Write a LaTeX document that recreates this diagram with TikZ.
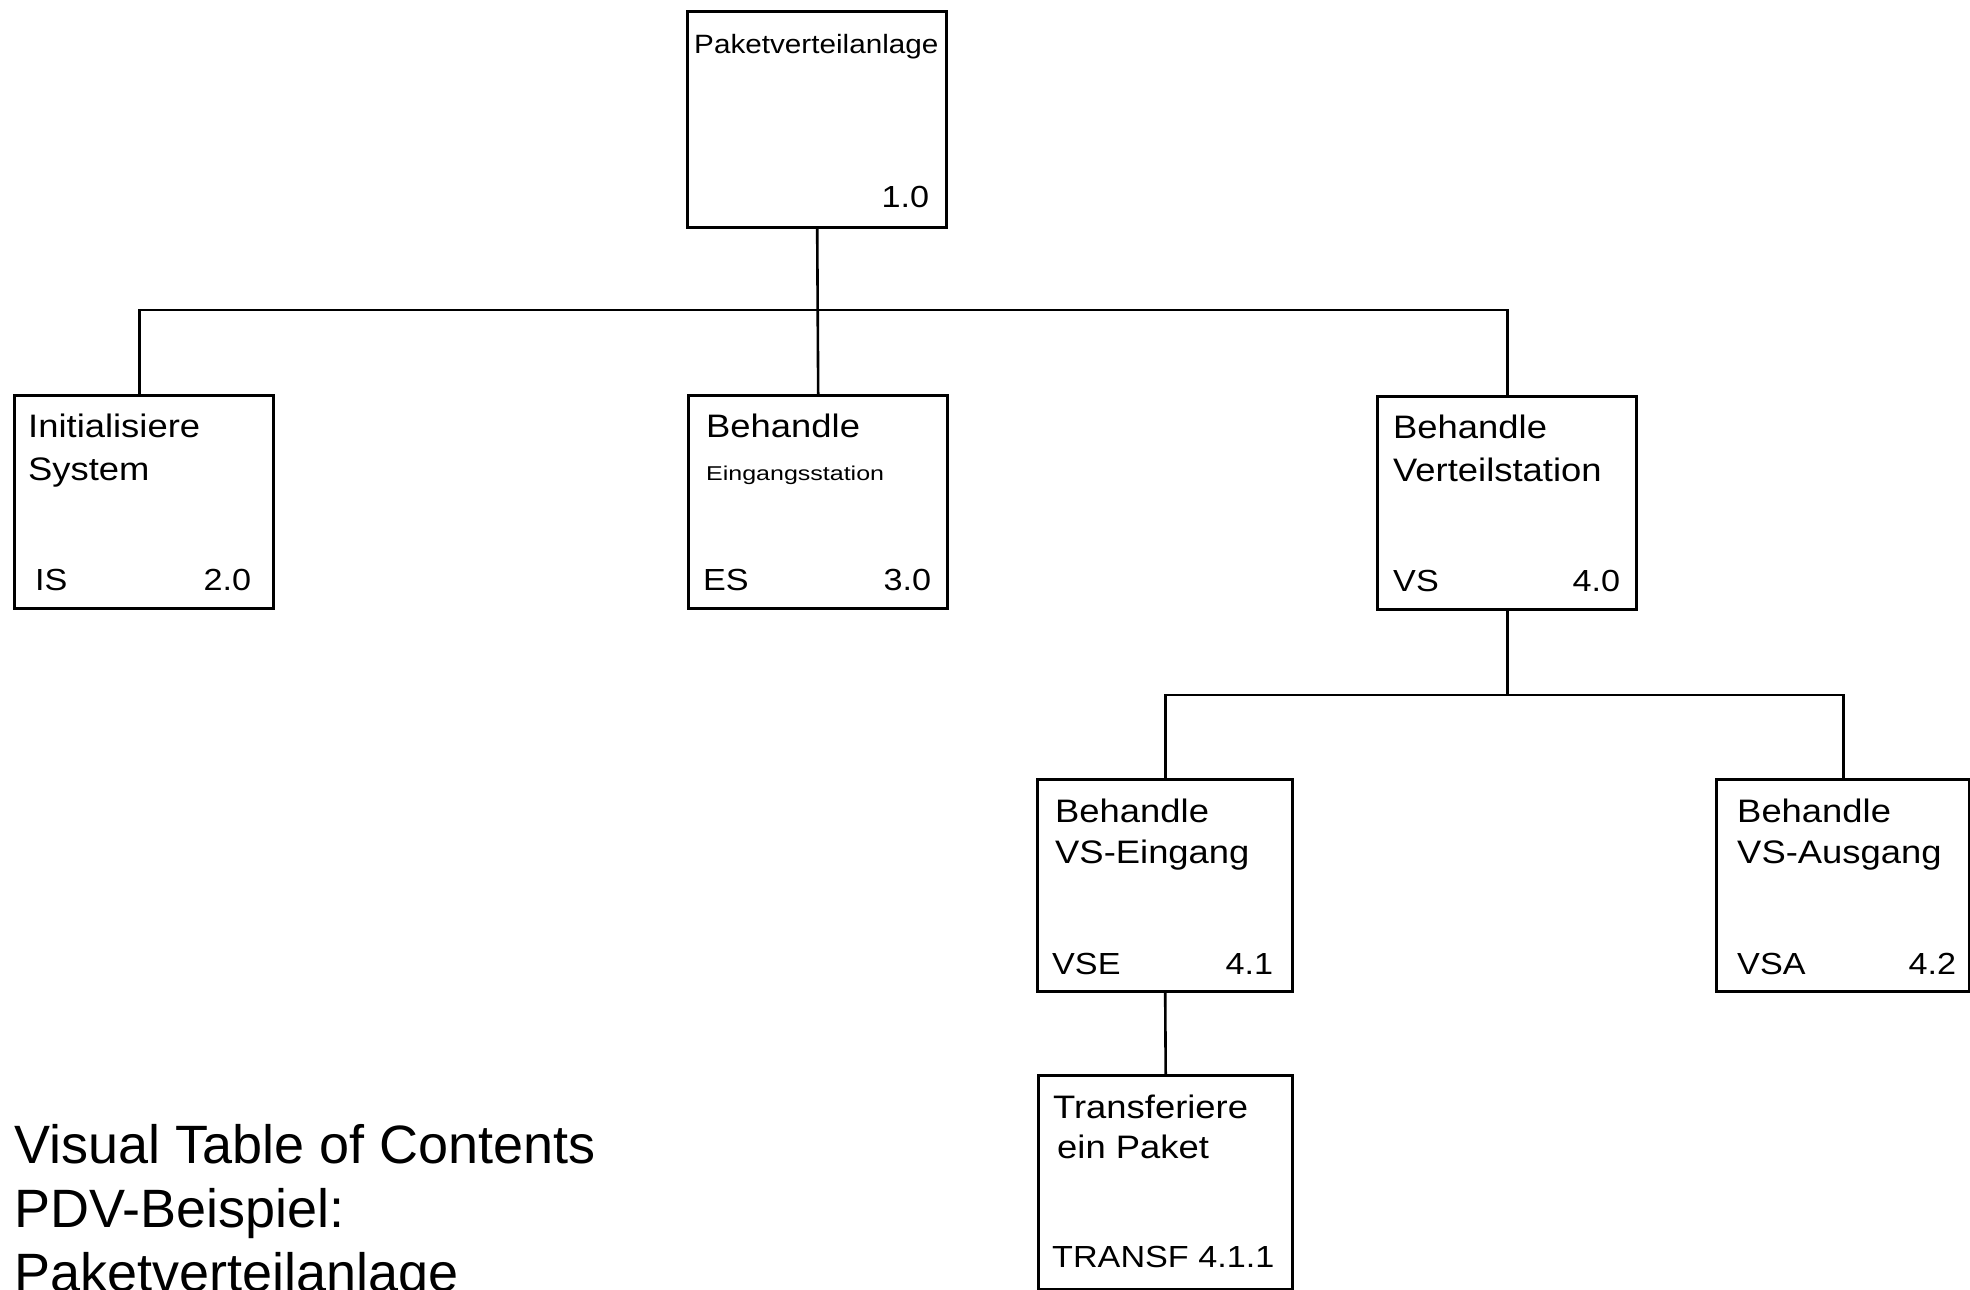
\documentclass[tikz,border=0pt]{standalone}
\usepackage{fontspec}
\setmainfont{Liberation Sans}
\newfontfamily\vtocbox[FakeStretch=1.12]{Liberation Sans}
\newfontfamily\vtocwide[FakeStretch=1.25]{Liberation Sans}
\newfontfamily\vtoccap{Liberation Sans}
\usetikzlibrary{calc}

\tikzset{
  tocbox/.style={draw=black, line width=3.4pt, fill=white, rectangle,
    minimum width=259pt, minimum height=213pt, anchor=north west, inner sep=0pt},
  link/.style={draw=black, line width=2.6pt, line cap=rect},
  headtxt/.style={anchor=base west, inner sep=0pt, font=\vtocbox\fontsize{32.5}{39}\selectfont},
  smalltxt/.style={anchor=base west, inner sep=0pt, font=\vtocwide\fontsize{20}{24}\selectfont},
  tagtxt/.style={anchor=base west, inner sep=0pt, font=\vtocbox\fontsize{30.5}{37}\selectfont},
  numtxt/.style={anchor=base east, inner sep=0pt, font=\vtocbox\fontsize{30.5}{37}\selectfont},
  toptxt/.style={anchor=base west, inner sep=0pt, font=\vtocbox\fontsize{26.5}{32}\selectfont},
  captxt/.style={anchor=base west, inner sep=0pt, font=\vtoccap\fontsize{54}{64}\selectfont},
}

\begin{document}
\begin{tikzpicture}[x=1pt, y=-1pt]
  \useasboundingbox (0,0) rectangle (1970,1290);

  % bus lines of the hierarchy
  \coordinate (bus1) at (0,310);
  \coordinate (bus2) at (0,695);

  % boxes
  \node[tocbox, minimum height=216pt] (n10) at (686,10) {};
  \node[tocbox] (n20) at (13,394) {};
  \node[tocbox] (n30) at (687,394) {};
  \node[tocbox] (n40) at (1376,395) {};
  \node[tocbox, minimum width=255pt, minimum height=212pt] (n41) at (1036,778) {};
  \node[tocbox, minimum width=253pt, minimum height=212pt] (n42) at (1715,778) {};
  \node[tocbox, minimum width=254pt, minimum height=214pt] (n411) at (1037,1074) {};

  % drop point of the first child, slightly left of its centre
  \coordinate (d20) at ($(n20.north)+(-5,0)$);

  % connectors
  \draw[link] (n10.south) -- (n30.north);
  \draw[link] (d20) -- (d20 |- bus1) -- (n40.north |- bus1) -- (n40.north);
  \draw[link] (n40.south) -- (n40.south |- bus2);
  \draw[link] (n41.north) -- (n41.north |- bus2) -- (n42.north |- bus2) -- (n42.north);
  \draw[link] (n41.south) -- (n411.north);

  % box 1.0
  \node[toptxt] (t10a) at ($(n10.north west)+(8,43)$) {Paketverteilanlage};
  \node[numtxt] (t10n) at ($(n10.north east)+(-19,197)$) {1.0};

  % box 2.0
  \node[headtxt] (t20a) at ($(n20.north west)+(15,43)$) {Initialisiere};
  \node[headtxt] (t20b) at ($(n20.north west)+(15,86)$) {System};
  \node[tagtxt] (t20c) at ($(n20.north west)+(22,196)$) {IS};
  \node[numtxt] (t20n) at ($(n20.north east)+(-24,196)$) {2.0};

  % box 3.0
  \node[headtxt] (t30a) at ($(n30.north west)+(19,43)$) {Behandle};
  \node[smalltxt] (t30b) at ($(n30.north west)+(19,86)$) {Eingangsstation};
  \node[tagtxt] (t30c) at ($(n30.north west)+(16,196)$) {ES};
  \node[numtxt] (t30n) at ($(n30.north east)+(-18,196)$) {3.0};

  % box 4.0
  \node[headtxt] (t40a) at ($(n40.north west)+(17,43)$) {Behandle};
  \node[headtxt] (t40b) at ($(n40.north west)+(17,86)$) {Verteilstation};
  \node[tagtxt] (t40c) at ($(n40.north west)+(17,196)$) {VS};
  \node[numtxt] (t40n) at ($(n40.north east)+(-18,196)$) {4.0};

  % box 4.1
  \node[headtxt] (t41a) at ($(n41.north west)+(19,44)$) {Behandle};
  \node[headtxt] (t41b) at ($(n41.north west)+(19,85)$) {VS-Eingang};
  \node[tagtxt] (t41c) at ($(n41.north west)+(16,196)$) {VSE};
  \node[numtxt] (t41n) at ($(n41.north east)+(-21,196)$) {4.1};

  % box 4.2
  \node[headtxt] (t42a) at ($(n42.north west)+(22,44)$) {Behandle};
  \node[headtxt] (t42b) at ($(n42.north west)+(22,85)$) {VS-Ausgang};
  \node[tagtxt] (t42c) at ($(n42.north west)+(22,196)$) {VSA};
  \node[numtxt] (t42n) at ($(n42.north east)+(-15,196)$) {4.2};

  % box 4.1.1
  \node[headtxt] (t411a) at ($(n411.north west)+(16,44)$) {Transferiere};
  \node[headtxt] (t411b) at ($(n411.north west)+(20,84)$) {ein Paket};
  \node[tagtxt] (t411c) at ($(n411.north west)+(15,193)$) {TRANSF 4.1.1};

  % caption
  \node[captxt] (cap1) at (14,1163) {Visual Table of Contents};
  \node[captxt] (cap2) at (14,1227) {PDV-Beispiel:};
  \node[captxt] (cap3) at (14,1291) {Paketverteilanlage};
\end{tikzpicture}
\end{document}
